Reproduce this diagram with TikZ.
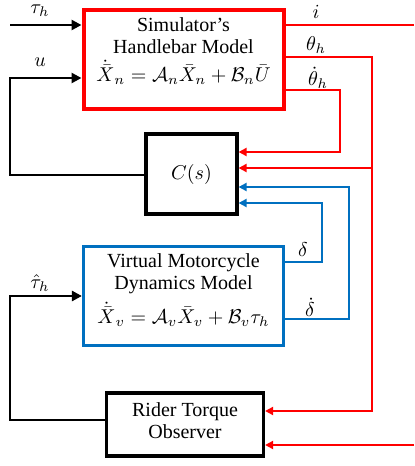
\documentclass[tikz,border=0pt]{standalone}
\usepackage{fontspec}
\setmainfont{Liberation Serif}
\usetikzlibrary{arrows.meta}
\definecolor{myred}{RGB}{255,0,0}
\definecolor{myblue}{RGB}{0,112,192}
\begin{document}
\begin{tikzpicture}[x=0.5pt,y=-0.5pt,
  font=\fontsize{10}{11}\selectfont,
  box/.style={draw, line width=1.6pt, fill=white, inner sep=0pt},
  txt/.style={align=center, inner sep=0pt},
  lbl/.style={inner sep=0pt},
  blk/.style={line width=1.4pt, black},
  rl/.style={line width=1pt, myred},
  bl/.style={line width=1pt, myblue},
  tipb/.style={-{Triangle[length=5pt,width=5pt]}},
  tipc/.style={-{Triangle[length=4pt,width=4pt]}}]
\useasboundingbox (0,0) rectangle (414,466);

% boxes
\node[box, draw=myred, line width=2pt, minimum width=100pt, minimum height=49.5pt] (sim) at (183.5,59) {};
\node[txt] (simtxt) at (183.5,51) {Simulator’s\\Handlebar Model\\[3pt]$\dot{\bar{X}}_n=\mathcal{A}_n\bar{X}_n+\mathcal{B}_n\bar{U}$};

\node[box, minimum width=45.5pt, minimum height=40pt] (cs) at (191.5,174) {$C(s)$};

\node[box, draw=myblue, minimum width=100pt, minimum height=49.5pt] (vm) at (183.5,296) {};
\node[txt] (vmtxt) at (183.5,290) {Virtual Motorcycle\\Dynamics Model\\[3pt]$\dot{\bar{X}}_v=\mathcal{A}_v\bar{X}_v+\mathcal{B}_v\tau_h$};

\node[box, minimum width=78.5pt, minimum height=31.5pt] (rto) at (185,424.5) {};
\node[txt] (rtotxt) at (185,421) {Rider Torque\\Observer};

% free-end coordinates
\coordinate (tauin) at (10,25);
\coordinate (iout) at (414,25);
\coordinate (extin) at (414,445);

% black connectors
\draw[blk,tipb] (tauin) -- (sim.west |- tauin);
\draw[blk,tipb] (cs.west |- 0,175) -- (10,175) -- (10,78) -- (sim.west |- 0,78);
\draw[blk,tipb] (rto.west |- 0,420) -- (10,420) -- (10,296) -- (vm.west |- 0,296);

% red connectors
\draw[rl] (sim.east |- iout) -- (iout);
\draw[rl,tipc] (sim.east |- 0,57) -- (372,57) -- (372,411) -- (rto.east |- 0,411);
\draw[rl,tipc] (372,168) -- (cs.east |- 0,168);
\draw[rl,tipc] (sim.east |- 0,90) -- (340,90) -- (340,152) -- (cs.east |- 0,152);
\draw[rl,tipc] (extin) -- (rto.east |- extin);

% blue connectors
\draw[bl,tipc] (vm.east |- 0,262) -- (322,262) -- (322,203) -- (cs.east |- 0,203);
\draw[bl,tipc] (vm.east |- 0,319) -- (349,319) -- (349,187) -- (cs.east |- 0,187);

% labels
\node[lbl] (ltau) at (40,11) {$\tau_h$};
\node[lbl] (lu) at (40,62) {$u$};
\node[lbl] (ltauhat) at (40,283) {$\hat{\tau}_h$};
\node[lbl] (li) at (316,12) {$i$};
\node[lbl] (lth) at (316,45) {$\theta_h$};
\node[lbl] (lthd) at (318,78) {$\dot{\theta}_h$};
\node[lbl] (ld) at (303,250) {$\delta$};
\node[lbl] (ldd) at (310,307) {$\dot{\delta}$};
\end{tikzpicture}
\end{document}
